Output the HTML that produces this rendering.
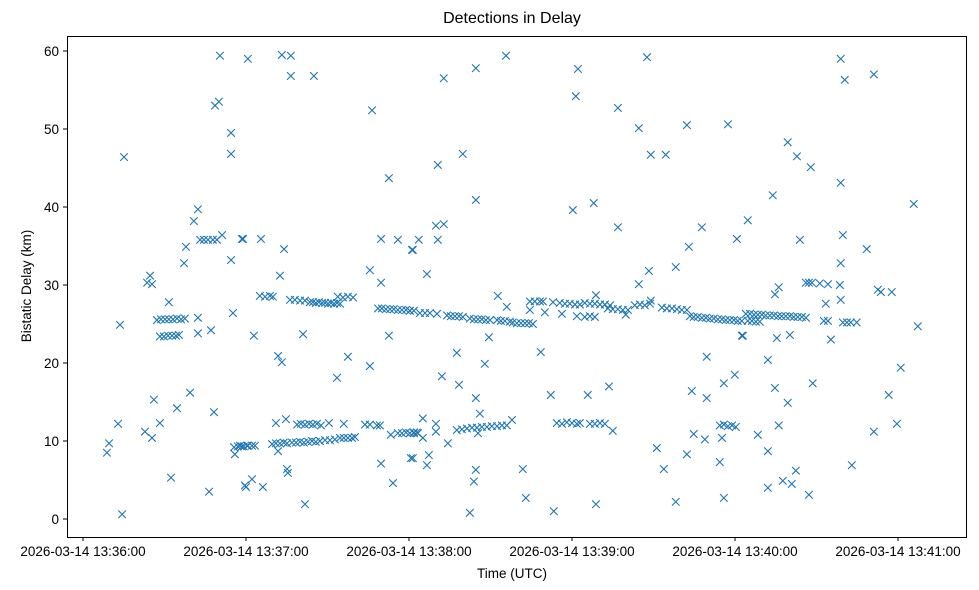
<!DOCTYPE html>
<html>
<head>
<meta charset="utf-8">
<style>
html,body{margin:0;padding:0;background:#fff;}
svg{display:block;font-family:"Liberation Sans","DejaVu Sans",sans-serif;}
</style>
</head>
<body>
<svg id="chart" width="979" height="590" viewBox="0 0 979 590" xmlns="http://www.w3.org/2000/svg">
  <rect x="0" y="0" width="979" height="590" fill="#fff"/>
  <text x="512" y="23" font-size="16" text-anchor="middle" fill="#000">Detections in Delay</text>
  <g id="marks"></g>
  <g id="xaxis"></g>
  <g id="yaxis"></g>
  <rect x="67.5" y="36.5" width="899" height="501" fill="none" stroke="#000" stroke-width="1"/>
  <text x="512" y="578" font-size="13.5" text-anchor="middle" fill="#000">Time (UTC)</text>
  <text x="31" y="286" font-size="13.5" text-anchor="middle" fill="#000" transform="rotate(-90 31 286)">Bistatic Delay (km)</text>
</svg>
<script>
// seconds after 2026-03-14 13:36:00
const xTickValues = [0, 60, 120, 180, 240, 300];
const xTickLabels = ["2026-03-14 13:36:00","2026-03-14 13:37:00","2026-03-14 13:38:00","2026-03-14 13:39:00","2026-03-14 13:40:00","2026-03-14 13:41:00"];
const yTickValues = [0, 10, 20, 30, 40, 50, 60];
const yTickLabels = ["0","10","20","30","40","50","60"];

const detTimes = [
50.4,48.6,50.0,54.5,54.5,15.1,42.3,40.8,43.1,44.5,46.0,47.8,49.3,51.2,58.5,37.9,37.2,54.5,24.7,23.6,25.4,31.6,
27.2,28.7,30.2,31.6,33.1,34.6,36.1,37.5,42.3,28.3,29.8,31.3,32.8,34.2,35.3,42.3,47.1,55.2,13.6,
39.4,26.1,34.6,48.2,12.9,28.3,22.8,25.4,9.6,8.8,55.6,57.0,58.5,60.4,55.9,32.4,46.4,59.6,14.4,
60.7,73.2,76.5,76.5,85.0,106.4,112.6,58.9,65.5,74.0,109.7,115.9,121.1,72.5,105.6,109.7,
65.1,67.0,68.8,69.9,76.2,78.0,79.9,81.7,83.5,84.6,85.7,86.8,88.0,89.1,90.2,91.3,92.4,93.5,94.6,
93.8,95.7,97.5,99.4,108.6,110.0,111.5,113.0,114.4,115.9,117.4,118.9,120.3,121.8,
62.9,81.0,112.6,71.8,73.2,97.5,105.6,93.5,71.0,74.7,78.8,80.2,81.7,83.2,84.6,86.1,87.6,
90.5,96.0,103.8,105.6,108.2,109.3,113.3,115.9,117.4,118.9,120.3,121.8,123.3,
57.8,59.2,60.7,62.2,63.3,69.6,71.0,72.5,73.9,75.1,76.9,78.4,79.9,81.3,82.8,84.3,85.7,87.2,
89.1,90.9,92.7,94.6,96.0,97.5,99.0,100.1,71.8,109.7,120.7,75.1,75.4,62.2,60.0,66.2,114.1,81.7,
155.7,144.6,132.8,182.2,181.4,139.8,130.6,144.6,180.3,129.9,132.8,130.6,123.6,121.4,126.6,152.7,156.0,
164.5,166.3,168.2,169.3,173.0,175.5,177.4,179.2,181.1,182.9,120.3,124.0,125.9,127.7,130.3,
134.0,135.4,136.9,138.4,139.8,142.4,143.9,145.4,146.8,148.3,149.8,152.4,153.8,155.3,157.1,
158.2,159.7,161.2,162.7,164.1,165.6,164.5,170.0,176.3,181.8,149.4,137.6,168.5,147.9,132.1,138.4,144.6,172.2,146.1,
125.1,157.9,137.6,139.5,141.3,143.2,145.0,146.8,148.7,150.5,152.4,154.2,156.0,120.3,121.8,122.9,
125.1,129.9,129.9,134.3,145.4,174.4,176.3,178.1,180.0,181.8,182.9,121.4,127.3,126.6,144.6,143.9,161.9,163.0,173.3,142.4,
207.6,196.9,204.6,222.3,237.4,209.0,214.5,188.0,196.9,227.8,240.7,223.0,208.3,218.2,204.6,188.8,
184.7,186.6,188.4,190.3,192.1,194.0,184.7,186.6,188.4,193.2,195.0,196.9,198.7,200.6,199.8,
203.1,205.0,206.8,208.7,209.0,213.1,214.9,216.8,218.6,220.4,222.3,
223.4,224.8,226.3,227.8,229.3,230.7,232.2,233.7,235.2,236.6,238.1,239.6,241.0,242.5,
242.5,229.6,193.6,185.8,224.1,229.6,235.9,239.9,186.6,188.4,190.3,192.1,195.0,224.8,228.9,235.2,
234.4,235.9,237.4,238.9,240.3,211.2,222.3,234.4,213.8,188.8,218.2,235.9,
278.9,280.4,291.1,259.4,262.8,267.9,278.9,253.9,305.8,244.7,263.9,279.7,288.5,278.9,256.1,254.7,
266.1,267.2,268.3,271.2,274.2,278.6,278.9,273.4,292.6,293.7,297.7,272.7,274.2,279.7,281.2,282.6,284.8,
307.3,275.3,242.9,255.4,260.2,
244.0,245.5,247.0,248.4,249.9,251.3,252.8,254.3,255.8,257.2,258.7,260.2,261.6,263.1,264.6,266.1,
244.7,246.2,247.7,249.1,
252.1,301.0,268.6,254.7,259.4,296.6,256.1,299.6,248.4,291.1,252.1,283.0,262.4,257.6,260.9,252.1,267.2
];
const detDelays = [
59.4,53.0,53.5,49.5,46.8,46.4,39.7,38.2,35.8,35.8,35.8,35.8,35.8,36.4,35.9,34.9,32.8,33.2,31.2,30.3,30.1,27.8,
25.5,25.6,25.6,25.6,25.6,25.7,25.6,25.7,25.8,23.4,23.4,23.5,23.5,23.5,23.6,23.8,24.2,26.4,24.9,
16.2,15.3,14.2,13.7,12.2,12.3,11.2,10.4,9.7,8.5,9.2,9.3,9.3,9.4,8.3,5.3,3.5,4.3,0.6,
59.0,59.5,59.4,56.8,56.8,52.4,43.7,35.9,35.9,34.6,35.9,35.8,34.5,31.2,31.9,30.3,
28.6,28.5,28.6,28.5,28.1,28.1,28.0,28.0,27.8,27.8,27.7,27.8,27.7,27.7,27.6,27.7,27.6,27.7,27.6,
28.5,28.4,28.5,28.4,27.0,27.0,26.9,26.9,26.9,26.8,26.8,26.8,26.7,26.7,
23.5,23.7,23.5,20.9,20.1,20.8,19.6,18.1,12.3,12.8,12.1,12.2,12.1,12.2,12.1,12.2,12.0,
12.3,12.2,12.1,12.1,12.0,12.0,10.8,11.0,11.0,11.1,11.0,11.1,11.0,
9.4,9.3,9.4,9.4,9.4,9.6,9.7,9.7,9.8,9.7,9.8,9.8,9.9,9.8,9.9,10.0,9.9,10.0,
10.1,10.1,10.2,10.4,10.4,10.4,10.4,10.5,8.7,7.1,7.8,6.4,5.9,5.1,4.1,4.1,4.6,1.9,
59.4,57.8,56.5,57.7,54.2,46.8,45.4,40.9,39.6,37.6,37.8,35.8,35.8,34.5,31.4,28.6,27.2,
27.9,27.9,27.9,27.9,27.8,27.7,27.6,27.6,27.5,27.5,26.7,26.4,26.4,26.4,26.3,
26.1,26.0,26.0,26.0,25.9,25.7,25.6,25.6,25.6,25.5,25.5,25.5,25.4,25.4,25.3,
25.2,25.1,25.1,25.1,25.1,25.0,26.8,26.5,26.3,26.0,23.3,21.3,21.4,19.9,18.3,17.2,15.5,15.9,13.5,
12.9,12.7,11.4,11.5,11.6,11.7,11.7,11.8,11.8,11.9,11.9,12.0,12.0,11.0,11.0,11.1,
10.4,12.2,11.2,9.7,11.0,12.3,12.2,12.4,12.3,12.2,12.3,7.8,8.2,6.9,6.3,4.8,6.4,2.7,1.0,0.8,
59.2,52.7,50.1,50.5,50.6,46.7,46.7,40.5,37.4,37.4,35.9,34.9,31.8,32.3,30.1,28.7,
27.7,27.6,27.6,27.5,27.5,27.4,25.9,26.0,25.9,27.0,26.9,26.9,26.8,26.8,26.2,
27.4,27.5,27.4,27.6,28.0,27.1,27.0,27.0,26.9,26.8,26.8,
26.0,25.9,25.9,25.8,25.8,25.7,25.7,25.6,25.6,25.5,25.5,25.5,25.4,25.4,
23.5,20.8,17.0,15.9,16.4,15.5,17.4,18.5,12.2,12.2,12.3,12.2,11.3,10.9,10.2,10.4,
12.0,12.1,11.9,12.0,11.8,9.1,8.3,7.3,6.4,1.9,2.2,2.7,
59.0,56.3,57.0,48.3,46.5,45.1,43.1,41.5,40.4,38.3,35.8,36.4,34.6,32.8,29.7,28.8,
30.3,30.3,30.3,30.2,30.1,30.0,28.1,27.6,29.4,29.1,29.1,25.4,25.4,25.2,25.2,25.2,25.2,
24.7,23.0,23.5,23.2,23.6,
26.3,26.3,26.2,26.2,26.2,26.1,26.1,26.1,26.0,26.0,26.0,26.0,25.9,25.9,25.9,25.8,
25.4,25.4,25.3,25.3,
20.4,19.4,17.4,16.8,14.9,15.9,12.0,12.2,10.8,11.2,8.7,6.9,6.2,4.9,4.5,4.0,3.1
];

// axis functions
function xScale(t){ return 83 + t * (163 / 60); }
function yScale(d){ return 519 - d * 7.8; }

const NS = "http://www.w3.org/2000/svg";
const marks = document.getElementById("marks");
const n = Math.min(detTimes.length, detDelays.length);
for (let i = 0; i < n; i++) {
  const cx = xScale(detTimes[i]), cy = yScale(detDelays[i]), h = 3.8;
  const p = document.createElementNS(NS, "path");
  p.setAttribute("d", `M${cx-h},${cy-h}L${cx+h},${cy+h}M${cx-h},${cy+h}L${cx+h},${cy-h}`);
  p.setAttribute("stroke", "#1f77b4");
  p.setAttribute("stroke-width", "1.1");
  p.setAttribute("fill", "none");
  
  
  marks.appendChild(p);
}

const xaxis = document.getElementById("xaxis");
xTickValues.forEach((v, i) => {
  const x = xScale(v);
  const tk = document.createElementNS(NS, "line");
  tk.setAttribute("x1", x); tk.setAttribute("x2", x);
  tk.setAttribute("y1", 537); tk.setAttribute("y2", 541);
  tk.setAttribute("stroke", "#000");
  
  
  xaxis.appendChild(tk);
  const tx = document.createElementNS(NS, "text");
  tx.setAttribute("x", x); tx.setAttribute("y", 556);
  tx.setAttribute("font-size", "13.5");
  tx.setAttribute("text-anchor", "middle");
  tx.textContent = xTickLabels[i];
  
  
  xaxis.appendChild(tx);
});

const yaxis = document.getElementById("yaxis");
yTickValues.forEach((v, i) => {
  const y = yScale(v);
  const tk = document.createElementNS(NS, "line");
  tk.setAttribute("x1", 63); tk.setAttribute("x2", 67);
  tk.setAttribute("y1", y); tk.setAttribute("y2", y);
  tk.setAttribute("stroke", "#000");
  
  
  yaxis.appendChild(tk);
  const tx = document.createElementNS(NS, "text");
  tx.setAttribute("x", 59); tx.setAttribute("y", y + 5);
  tx.setAttribute("font-size", "13.5");
  tx.setAttribute("text-anchor", "end");
  tx.textContent = yTickLabels[i];
  
  
  yaxis.appendChild(tx);
});
</script>
</body>
</html>
